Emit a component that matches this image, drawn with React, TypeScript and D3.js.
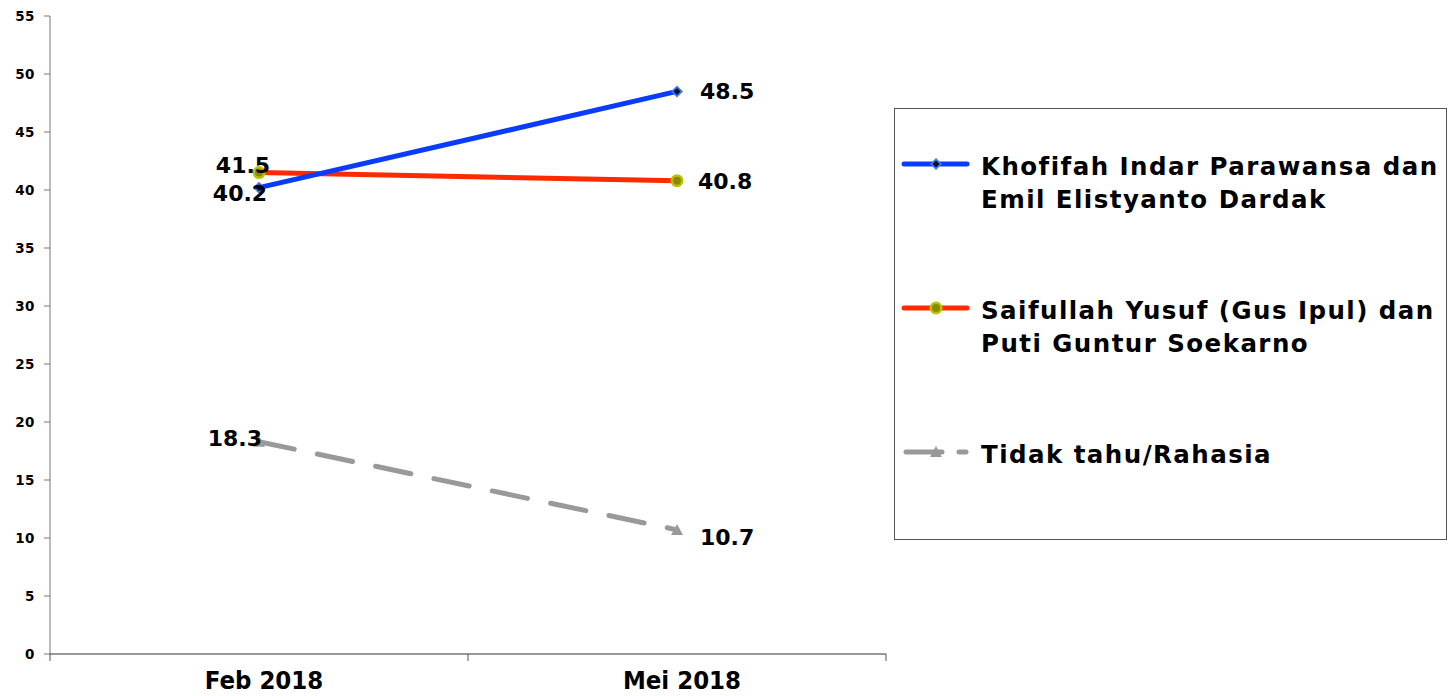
import React, { useEffect, useRef } from "react";
import * as d3 from "d3";

const categories = ["Feb 2018", "Mei 2018"];
const khofifah = [40.2, 48.5];
const saifullah = [41.5, 40.8];
const tidakTahu = [18.3, 10.7];
const yTicks = [0, 5, 10, 15, 20, 25, 30, 35, 40, 45, 50, 55];
const seriesNames = [
  ["Khofifah Indar Parawansa dan", "Emil Elistyanto Dardak"],
  ["Saifullah Yusuf (Gus Ipul) dan", "Puti Guntur Soekarno"],
  ["Tidak tahu/Rahasia"],
];

export default function App() {
  const ref = useRef<SVGSVGElement>(null);
  useEffect(() => {
    const svg = d3.select(ref.current);
    svg.selectAll("*").remove();
    const W = 1449, H = 696;
    const left = 50, right = 886, top = 16, bottom = 654;
    const font = "'DejaVu Sans', Verdana, sans-serif";
    const x = d3.scaleBand().domain(categories).range([left, right]).padding(0);
    const y = d3.scaleLinear().domain([0, 55]).range([bottom, top]);
    const cx = (c: string) => (x(c) as number) + x.bandwidth() / 2;

    svg.attr("width", W).attr("height", H);

    // y axis
    svg.append("line").attr("x1", left).attr("x2", left).attr("y1", top).attr("y2", bottom)
      .attr("stroke", "#777").attr("stroke-width", 1);
    yTicks.forEach((t) => {
      svg.append("line").attr("x1", left - 6).attr("x2", left).attr("y1", y(t)).attr("y2", y(t))
        .attr("stroke", "#777");
      svg.append("text").attr("x", left - 15).attr("y", y(t)).attr("dy", "0.35em")
        .attr("text-anchor", "end").attr("font-family", font).attr("font-weight", "bold")
        .attr("font-size", 13.5).attr("letter-spacing", 0.5).text(String(t));
    });
    // x axis
    svg.append("line").attr("x1", left).attr("x2", right).attr("y1", bottom).attr("y2", bottom)
      .attr("stroke", "#333").attr("stroke-width", 1);
    [left, ...categories.map((c) => (x(c) as number) + x.bandwidth())].forEach((px) => {
      svg.append("line").attr("x1", px).attr("x2", px).attr("y1", bottom).attr("y2", bottom + 7)
        .attr("stroke", "#555");
    });
    categories.forEach((c) => {
      svg.append("text").attr("x", cx(c) + 5).attr("y", 689).attr("text-anchor", "middle")
        .attr("font-family", "'DejaVu Sans Condensed', 'DejaVu Sans', sans-serif")
        .attr("font-weight", "bold").attr("font-size", 25.5).text(c);
    });

    const line = d3.line<number>().x((_, i) => cx(categories[i])).y((d) => y(d));

    // gray dashed
    svg.append("path").datum(tidakTahu).attr("d", line).attr("fill", "none")
      .attr("stroke", "#999").attr("stroke-width", 5).attr("stroke-linecap", "round")
      .attr("stroke-dasharray", "36,23.6");
    // red
    svg.append("path").datum(saifullah).attr("d", line).attr("fill", "none")
      .attr("stroke", "#ff2a00").attr("stroke-width", 5);
    // blue
    svg.append("path").datum(khofifah).attr("d", line).attr("fill", "none")
      .attr("stroke", "#0a3cff").attr("stroke-width", 5);

    const diamond = (g: any, px: number, py: number) => {
      g.append("path").attr("d", `M${px},${py - 6}L${px + 6},${py}L${px},${py + 6}L${px - 6},${py}Z`)
        .attr("fill", "#3a78ff");
      g.append("path").attr("d", `M${px},${py - 3.5}L${px + 3.5},${py}L${px},${py + 3.5}L${px - 3.5},${py}Z`)
        .attr("fill", "#111");
    };
    const circle = (g: any, px: number, py: number) => {
      g.append("circle").attr("cx", px).attr("cy", py).attr("r", 6.5).attr("fill", "#b8c400");
      g.append("circle").attr("cx", px).attr("cy", py).attr("r", 4).attr("fill", "#8a8a00");
    };
    const tri = (g: any, px: number, py: number) => {
      g.append("path").attr("d", `M${px},${py - 6}L${px + 6},${py + 5}L${px - 6},${py + 5}Z`)
        .attr("fill", "#999");
    };

    tidakTahu.forEach((v, i) => tri(svg, cx(categories[i]), y(v)));
    saifullah.forEach((v, i) => circle(svg, cx(categories[i]), y(v)));
    khofifah.forEach((v, i) => diamond(svg, cx(categories[i]), y(v)));

    const lab = (txt: string, px: number, py: number, anchor: string) =>
      svg.append("text").attr("x", px).attr("y", py).attr("text-anchor", anchor)
        .attr("font-family", font).attr("font-weight", "bold").attr("font-size", 22)
        .attr("fill", "#000").text(txt);

    const c0 = cx(categories[0]), c1 = cx(categories[1]);
    lab(String(saifullah[0]), c0 - 16, y(saifullah[0]) + 0, "middle");
    lab(String(khofifah[0]), c0 - 19, y(khofifah[0]) + 13, "middle");
    lab(String(tidakTahu[0]), c0 + 3, y(tidakTahu[0]) + 4, "end");
    lab(String(khofifah[1]), c1 + 23, y(khofifah[1]) + 8, "start");
    lab(String(saifullah[1]), c1 + 21, y(saifullah[1]) + 8, "start");
    lab(String(tidakTahu[1]), c1 + 23, y(tidakTahu[1]) + 15, "start");

    // legend
    svg.append("rect").attr("x", 894.5).attr("y", 108.5).attr("width", 552).attr("height", 431)
      .attr("fill", "none").attr("stroke", "#555").attr("stroke-width", 1);
    const legY = [164, 308, 452];
    legY.forEach((ly, i) => {
      const g = svg.append("g");
      if (i === 0) {
        g.append("line").attr("x1", 904).attr("x2", 967).attr("y1", ly).attr("y2", ly)
          .attr("stroke", "#0a3cff").attr("stroke-width", 5).attr("stroke-linecap", "round");
        diamond(g, 936, ly);
      } else if (i === 1) {
        g.append("line").attr("x1", 904).attr("x2", 967).attr("y1", ly).attr("y2", ly)
          .attr("stroke", "#ff2a00").attr("stroke-width", 5).attr("stroke-linecap", "round");
        circle(g, 936, ly);
      } else {
        g.append("line").attr("x1", 906).attr("x2", 966).attr("y1", ly).attr("y2", ly)
          .attr("stroke", "#999").attr("stroke-width", 5).attr("stroke-linecap", "round")
          .attr("stroke-dasharray", "36,17");
        tri(g, 936, ly);
      }
      seriesNames[i].forEach((t, j) => {
        g.append("text").attr("x", 981).attr("y", ly + 11 + j * 33)
          .attr("font-family", font).attr("font-weight", "bold").attr("font-size", 24.5)
          .attr("letter-spacing", 1.45)
          .attr("fill", "#000").text(t);
      });
    });
  }, []);
  return <svg ref={ref} style={{ position: "absolute", left: 0, top: 0 }} />;
}
